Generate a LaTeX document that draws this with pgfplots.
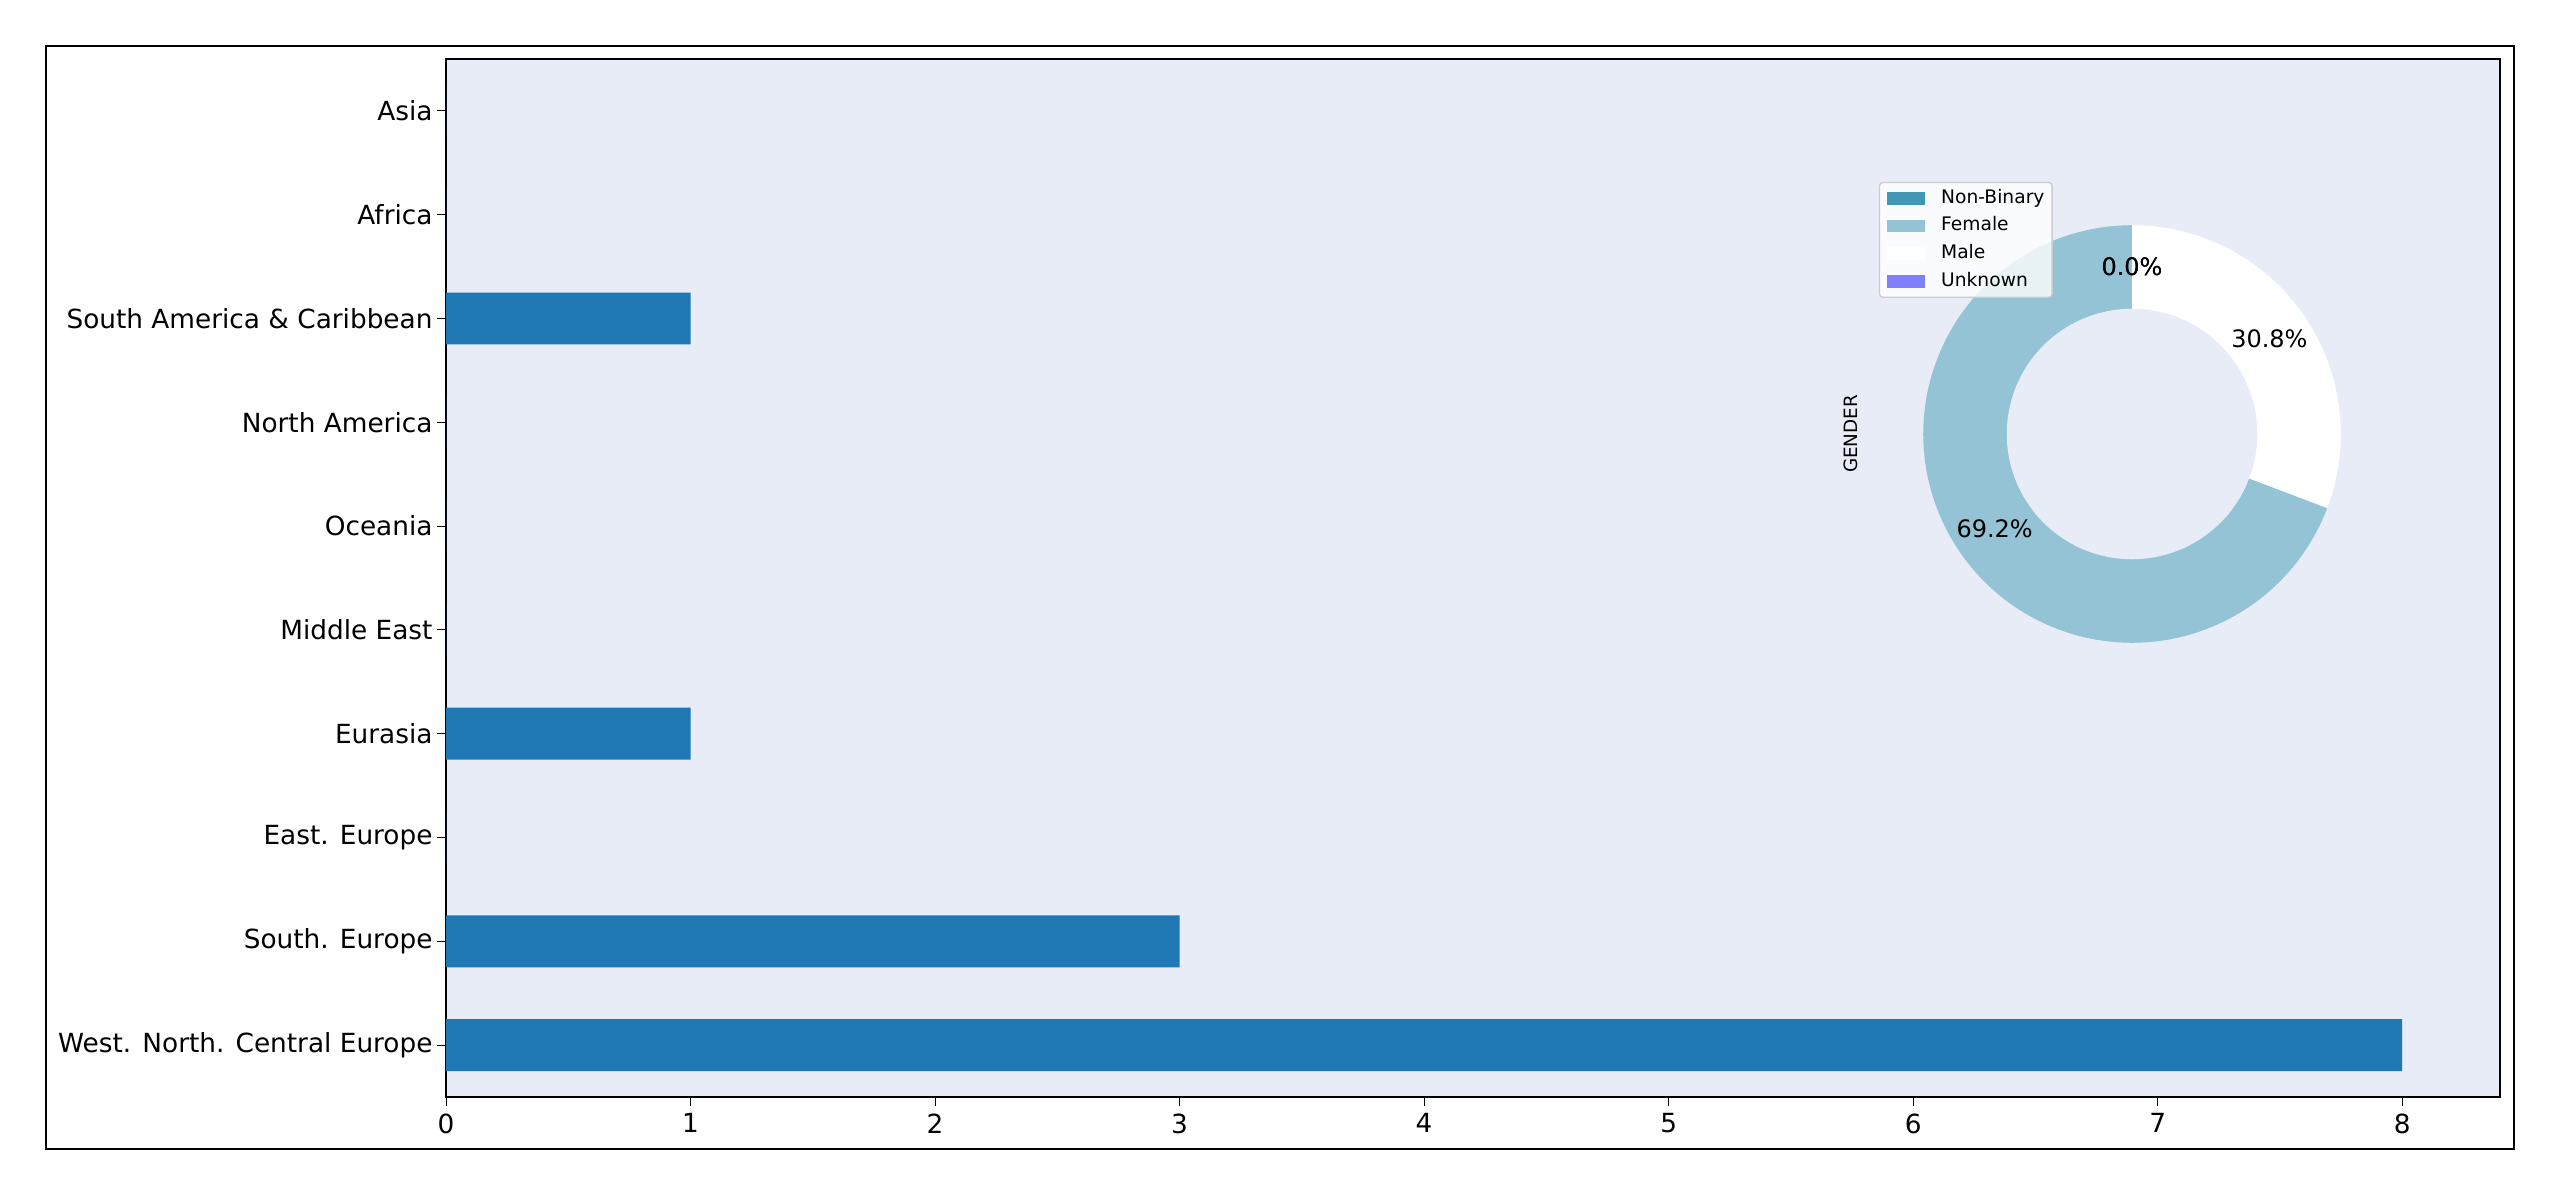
\documentclass[border=0pt]{standalone}
\usepackage{pgfplots}
\pgfplotsset{compat=1.18}
\usepackage{fontspec}
\setmainfont{DejaVu Sans}
\definecolor{bgcol}{HTML}{E8ECF7}
\definecolor{barcol}{HTML}{1F77B4}
\definecolor{nbcol}{HTML}{4298B2}
\definecolor{femcol}{HTML}{93C3D5}
\definecolor{unkcol}{HTML}{8080FF}
\begin{document}
\begin{tikzpicture}[x=1pt,y=1pt]
\path[use as bounding box] (0,0) rectangle (768,359.1);
\draw[black, line width=0.6pt] (13.8,14.4) rectangle (754.2,345.3);
\begin{axis}[
  at={(133.8pt,30pt)}, anchor=south west,
  width=616.2pt, height=311.4pt, scale only axis,
  xmin=0, xmax=8.4, ymin=-0.5, ymax=9.5,
  axis background/.style={fill=bgcol},
  xbar, bar width=0.5,
  ytick={0,...,9},
  yticklabels={West. North. Central Europe, South. Europe, East. Europe, Eurasia, Middle East, Oceania, North America, South America \& Caribbean, Africa, Asia},
  xtick={0,...,8},
  tick align=outside, xtick pos=bottom, ytick pos=left,
  major tick length=2.6pt,
  tick style={black, line width=0.3pt},
  axis line style={line width=0.6pt, black},
  ticklabel style={font=\fontsize{7.9}{9}\selectfont},
  yticklabel style={inner xsep=1.25pt},
  xticklabel style={inner ysep=2.2pt},
  /pgf/number format/assume math mode=true,
]
\addplot[fill=barcol, draw=none] coordinates {(8,0) (3,1) (0,2) (1,3) (0,4) (0,5) (0,6) (1,7) (0,8) (0,9)};
\end{axis}
\begin{axis}[
  at={(639.6pt,228.9pt)}, anchor=center,
  width=156.6pt, height=156.6pt, scale only axis,
  xmin=-1.25, xmax=1.25, ymin=-1.25, ymax=1.25,
  axis line style={draw=none}, xtick=\empty, ytick=\empty,
  ylabel=GENDER,
  ylabel style={at={(axis description cs:-0.038,0.5)}, anchor=center, font=\fontsize{5.5}{6}\selectfont},
  clip=false,
  legend image code/.code={\fill[#1, fill opacity=1, sharp corners] (0pt,-1.9pt) rectangle (11.4pt,1.9pt);},
  legend cell align=left,
  legend style={at={(axis description cs:0.015,0.983)}, anchor=north west,
    fill=white, fill opacity=0.8, text opacity=1, draw=black!20, rounded corners=1pt,
    font=\fontsize{5.6}{6}\selectfont, inner xsep=2.3pt, inner ysep=2.1pt,
    row sep=3pt,
    nodes={inner sep=0pt, text height=4.1pt, text depth=1.2pt},
    /tikz/every odd column/.append style={column sep=4.8pt}},
]
\addlegendimage{fill=nbcol, draw=none}
\addlegendentry{Non-Binary}
\addplot[fill=femcol, draw=none, domain=90:339.23, samples=120] ({cos(x)},{sin(x)}) -- (axis cs:0,0) -- cycle;
\addlegendentry{Female}
\addplot[fill=white, draw=none, domain=339.23:450, samples=60] ({cos(x)},{sin(x)}) -- (axis cs:0,0) -- cycle;
\addlegendentry{Male}
\addlegendimage{fill=unkcol, draw=none}
\addlegendentry{Unknown}
\addplot[fill=bgcol, draw=none, domain=0:360, samples=150, forget plot] ({0.6*cos(x)},{0.6*sin(x)}) -- cycle;
\addplot[only marks, mark=none, forget plot, nodes near coords, point meta=explicit symbolic,
  nodes near coords style={anchor=center, font=\fontsize{7.2}{8}\selectfont, text=black}]
  coordinates {(0,0.8)[0.0\%] (0.658,0.4545)[30.8\%] (-0.658,-0.4545)[69.2\%] (0,0.8)[0.0\%]};
\end{axis}
\end{tikzpicture}
\end{document}
